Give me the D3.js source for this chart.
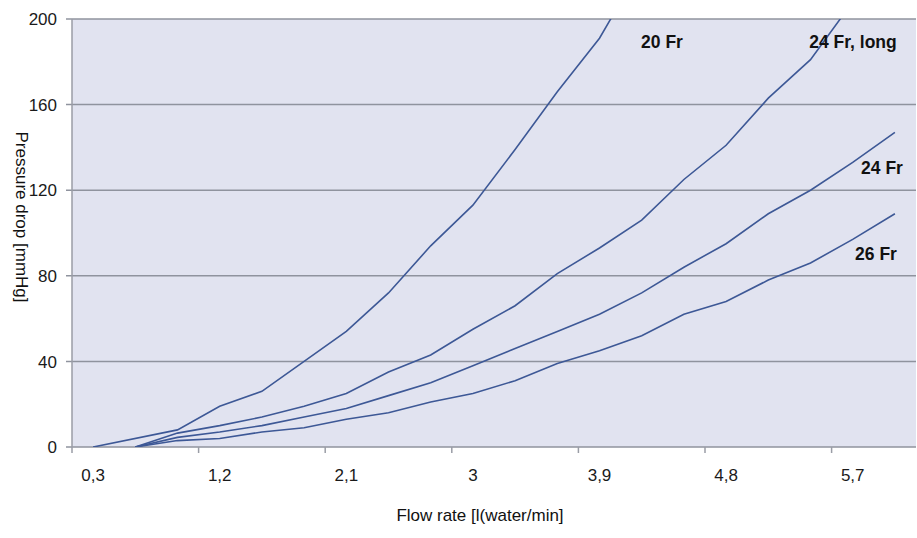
<!DOCTYPE html>
<html><head><meta charset="utf-8">
<script src="https://cdn.jsdelivr.net/npm/d3@7"></script>
<style>body{margin:0;background:#fff}svg{display:block}text{font-family:"Liberation Sans",Arial,sans-serif}</style>
</head><body>
<svg id="c" width="917" height="538"></svg>
<script>
const categories = [0.3,0.6,0.9,1.2,1.5,1.8,2.1,2.4,2.7,3.0,3.3,3.6,3.9,4.2,4.5,4.8,5.1,5.4,5.7,6.0];
const tickLabels = ["0,3","1,2","2,1","3","3,9","4,8","5,7"];
const yTicks = [0,40,80,120,160,200];
const fr20 = [0,null,8,19,26,40,54,72,94,113,139,166,191,225,null,null,null,null,null,null];
const fr24long = [null,0,6.5,10,14,19,25,35,43,55,66,81,93,106,125,141,163,181,208,235];
const fr24 = [null,0,4.5,7,10,14,18,24,30,38,46,54,62,72,84,95,109,120,133,147];
const fr26 = [null,0,3,4,7,9,13,16,21,25,31,39,45,52,62,68,78,86,97,109];
const seriesNames = ["20 Fr","24 Fr, long","24 Fr","26 Fr"];

const svg = d3.select("#c");
const L=72, R=916, T=19, B=447;
const x = d3.scaleBand().domain(categories).range([L,R]).padding(0);
const y = d3.scaleLinear().domain([0,200]).range([B,T]);

svg.append("defs").append("clipPath").attr("id","clip").append("rect")
  .attr("x",L).attr("y",T).attr("width",R-L).attr("height",B-T);

svg.append("rect").attr("x",L).attr("y",T).attr("width",R-L).attr("height",B-T).attr("fill","#e1e3f0");

// grid
svg.append("g").selectAll("line").data(yTicks).join("line")
  .attr("x1",L-6).attr("x2",R).attr("y1",d=>y(d)).attr("y2",d=>y(d))
  .attr("stroke","#8f939e").attr("stroke-width",1.5);

// y axis line
svg.append("line").attr("x1",L).attr("x2",L).attr("y1",T).attr("y2",B+6).attr("stroke","#9a9da6").attr("stroke-width",1.5);

// y tick labels
svg.append("g").selectAll("text").data(yTicks).join("text")
  .attr("x",57).attr("y",d=>y(d)).attr("dy","0.36em").attr("text-anchor","end")
  .attr("font-size",17).attr("fill","#1a1a1a").text(d=>d);

// x ticks: every 3 categories at band boundaries
const tickIdx = [3,6,9,12,15,18];
svg.append("g").selectAll("line").data(tickIdx).join("line")
  .attr("x1",i=>x(categories[i])).attr("x2",i=>x(categories[i]))
  .attr("y1",B).attr("y2",B+6).attr("stroke","#9a9da6").attr("stroke-width",1.5);

// x tick labels
const labelCats = [0.3,1.2,2.1,3.0,3.9,4.8,5.7];
svg.append("g").selectAll("text").data(labelCats).join("text")
  .attr("x",d=>x(d)+x.bandwidth()/2).attr("y",481).attr("text-anchor","middle")
  .attr("font-size",17).attr("fill","#1a1a1a").text((d,i)=>tickLabels[i]);

// lines (points without a value are skipped, line stays continuous)
const line = d3.line().x(d=>x(d[0])+x.bandwidth()/2).y(d=>y(d[1]));
const allSeries = [fr20,fr24long,fr24,fr26];
svg.append("g").attr("clip-path","url(#clip)").selectAll("path").data(allSeries).join("path")
  .attr("d",s=>line(categories.map((c,i)=>[c,s[i]]).filter(d=>d[1]!==null)))
  .attr("fill","none").attr("stroke","#3d5896").attr("stroke-width",1.6);

// series labels
const labelPos = [[662,48],[853,48],[882,174],[876,260]];
svg.append("g").selectAll("text").data(seriesNames).join("text")
  .attr("x",(d,i)=>labelPos[i][0]).attr("y",(d,i)=>labelPos[i][1]).attr("text-anchor","middle")
  .attr("font-size",17.5).attr("font-weight","bold").attr("fill","#111").text(d=>d);

// axis titles
svg.append("text").attr("x",480).attr("y",521).attr("text-anchor","middle")
  .attr("font-size",17).attr("fill","#111").text("Flow rate [l(water/min]");
svg.append("text").attr("transform","translate(16,217) rotate(90)").attr("text-anchor","middle")
  .attr("font-size",17).attr("fill","#111").text("Pressure drop [mmHg]");
</script>
</body></html>
